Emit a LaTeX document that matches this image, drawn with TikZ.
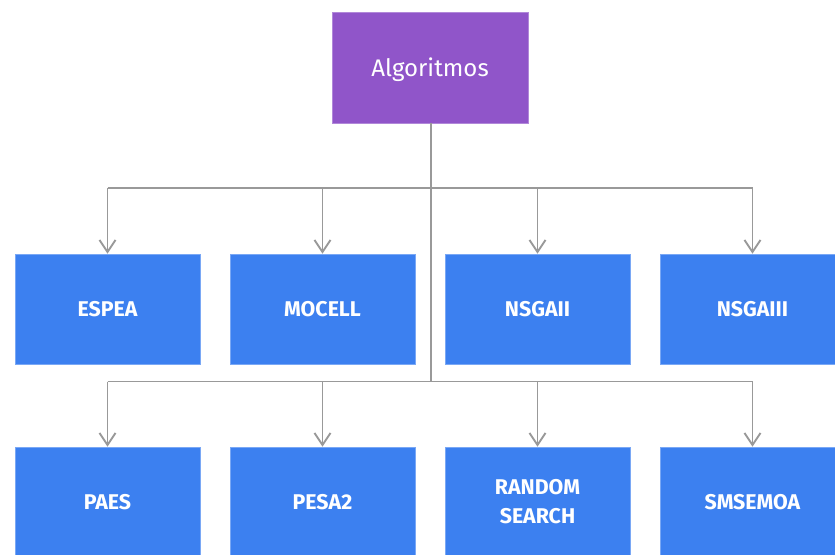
\documentclass[tikz,border=0pt]{standalone}
\usepackage{fontspec}
\setmainfont{Fira Sans}
\usetikzlibrary{arrows.meta}
\definecolor{purp}{HTML}{9055C9}
\definecolor{bluebox}{HTML}{3C80F0}
\definecolor{blueedge}{HTML}{7AA8F5}
\definecolor{conn}{HTML}{999999}
\begin{document}
\begin{tikzpicture}[x=0.75pt,y=-0.75pt,
  algbox/.style={draw=blueedge,line width=0.5pt,fill=bluebox,minimum width=138.75pt,minimum height=82.5pt,inner sep=0pt,text=white,font=\fontsize{16}{21.75}\selectfont\bfseries,align=center},
  rootbox/.style={draw=purp!70!white,line width=0.5pt,fill=purp,minimum width=147pt,minimum height=83.25pt,inner sep=0pt},
  roottext/.style={text=white,font=\fontsize{18}{20}\selectfont,inner sep=0pt},
  conn/.style={draw=conn,line width=1.4pt},
  arr/.style={conn,-{Straight Barb[length=9pt,width=12pt,line width=1.4pt]}}]
\clip (0,0) rectangle (835,554);
\fill[white] (0,0) rectangle (835,554);
\node[rootbox] (root) at (430,67.5) {};
\node[roottext] (rootlabel) at ([yshift=-1.5pt]root.center) {Algoritmos};
\node[algbox] (espea) at (107.5,309) {ESPEA};
\node[algbox] (mocell) at (322.5,309) {MOCELL};
\node[algbox] (nsgaii) at (537.5,309) {NSGAII};
\node[algbox] (nsgaiii) at (752.5,309) {NSGAIII};
\node[algbox] (paes) at (107.5,502) {PAES};
\node[algbox] (pesa) at (322.5,502) {PESA2};
\node[algbox] (random) at (537.5,502) {RANDOM\\SEARCH};
\node[algbox] (smsemoa) at (752.5,502) {SMSEMOA};
\coordinate (b1) at (431,188);
\coordinate (b2) at (431,381.5);
\draw[conn] (root.south -| b1) -- (b2);
\draw[conn] (espea.north |- b1) -- (nsgaiii.north |- b1);
\draw[conn] (paes.north |- b2) -- (smsemoa.north |- b2);
\foreach \n in {espea,mocell,nsgaii,nsgaiii}{
  \draw[arr] (\n.north |- b1) -- (\n.north);
}
\foreach \n in {paes,pesa,random,smsemoa}{
  \draw[arr] (\n.north |- b2) -- (\n.north);
}
\end{tikzpicture}
\end{document}
